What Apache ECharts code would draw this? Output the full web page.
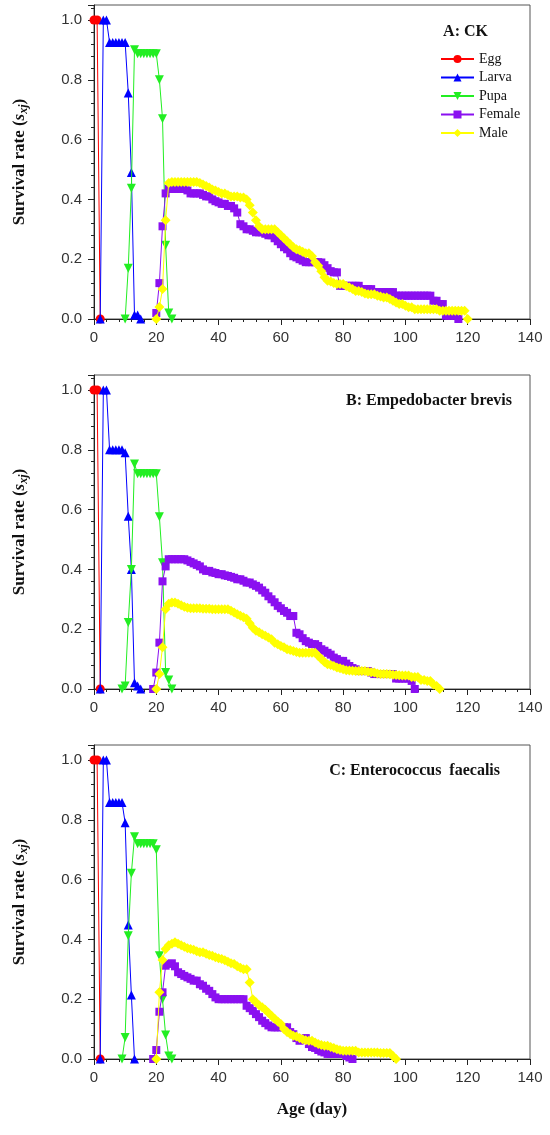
<!DOCTYPE html>
<html>
<head>
<meta charset="utf-8">
<script src="https://cdn.jsdelivr.net/npm/echarts@6/dist/echarts.min.js"></script>
<style>
  html, body { margin: 0; padding: 0; background: #fff; }
  #main { width: 550px; height: 1135px; }
</style>
</head>
<body>
<div id="main"></div>
<script>
// stage names and panel titles
const stages = ['Egg', 'Larva', 'Pupa', 'Female', 'Male'];
const panelTitles = ['A: CK', 'B: Empedobacter brevis', 'C: Enterococcus  faecalis'];

// first age (day) of each stage curve, per panel
const startA = [0, 2, 10, 20, 20];
const startB = [0, 2, 9, 19, 20];
const startC = [0, 2, 9, 19, 20];

// A: CK
const eggA = [1, 1, 0];
const larvaA = [0, 1, 1, 0.925, 0.925, 0.925, 0.925, 0.925, 0.925, 0.756, 0.49, 0.013, 0.013, 0];
const pupaA = [0, 0.17, 0.437, 0.9, 0.887, 0.887, 0.887, 0.887, 0.887, 0.887, 0.887, 0.8, 0.67, 0.247, 0.02, 0];
const femaleA = [
  0.02, 0.12, 0.31, 0.42, 0.435, 0.435, 0.435, 0.435, 0.435, 0.435,
  0.43, 0.42, 0.42, 0.42, 0.42, 0.415, 0.41, 0.41, 0.40, 0.394,
  0.39, 0.385, 0.385, 0.378, 0.378, 0.37, 0.356, 0.317, 0.31, 0.30,
  0.30, 0.295, 0.29, 0.29, 0.29, 0.285, 0.28, 0.28, 0.27, 0.26,
  0.25, 0.24, 0.233, 0.22, 0.21, 0.206, 0.2, 0.195, 0.19, 0.19,
  0.19, 0.19, 0.19, 0.189, 0.18, 0.17, 0.16, 0.156, 0.156, 0.111,
  0.111, 0.111, 0.111, 0.111, 0.111, 0.111, 0.1, 0.1, 0.1, 0.1,
  0.09, 0.09, 0.09, 0.09, 0.09, 0.09, 0.09, 0.078, 0.078, 0.078,
  0.078, 0.078, 0.078, 0.078, 0.078, 0.078, 0.078, 0.078, 0.078, 0.061,
  0.061, 0.05, 0.05, 0.011, 0.011, 0.011, 0.011, 0
];
const maleA = [
  0, 0.04, 0.1, 0.33, 0.455, 0.458, 0.458, 0.458, 0.458, 0.458,
  0.458, 0.458, 0.458, 0.458, 0.455, 0.45, 0.445, 0.44, 0.433, 0.43,
  0.425, 0.42, 0.42, 0.415, 0.41, 0.41, 0.41, 0.406, 0.406, 0.40,
  0.38, 0.356, 0.33, 0.31, 0.30, 0.30, 0.30, 0.30, 0.30, 0.29,
  0.28, 0.27, 0.26, 0.25, 0.24, 0.233, 0.23, 0.225, 0.22, 0.22,
  0.21, 0.19, 0.178, 0.16, 0.14, 0.128, 0.125, 0.12, 0.117, 0.117,
  0.117, 0.11, 0.105, 0.1, 0.094, 0.094, 0.09, 0.085, 0.083, 0.083,
  0.083, 0.078, 0.075, 0.072, 0.072, 0.067, 0.061, 0.055, 0.05, 0.05,
  0.044, 0.039, 0.039, 0.033, 0.033, 0.033, 0.033, 0.033, 0.033, 0.033,
  0.033, 0.028, 0.028, 0.028, 0.028, 0.028, 0.028, 0.028, 0.028, 0.028,
  0
];

// B: Empedobacter brevis
const eggB = [1, 1, 0];
const larvaB = [0, 1, 1, 0.8, 0.8, 0.8, 0.8, 0.8, 0.79, 0.578, 0.40, 0.021, 0.01, 0];
const pupaB = [0, 0.01, 0.222, 0.40, 0.752, 0.72, 0.72, 0.72, 0.72, 0.72, 0.72, 0.72, 0.576, 0.422, 0.055, 0.03, 0];
const femaleB = [
  0,
  0.055, 0.155, 0.36, 0.41, 0.434, 0.434, 0.434, 0.434, 0.434, 0.434,
  0.43, 0.425, 0.42, 0.415, 0.41, 0.40, 0.395, 0.395, 0.39, 0.388,
  0.384, 0.384, 0.38, 0.378, 0.375, 0.372, 0.367, 0.367, 0.362, 0.356,
  0.356, 0.35, 0.345, 0.339, 0.33, 0.322, 0.31, 0.30, 0.29, 0.278,
  0.27, 0.261, 0.255, 0.244, 0.244, 0.188, 0.183, 0.17, 0.16, 0.155,
  0.15, 0.15, 0.144, 0.133, 0.128, 0.121, 0.115, 0.105, 0.1, 0.094,
  0.094, 0.085, 0.077, 0.07, 0.066, 0.06, 0.06, 0.06, 0.06, 0.055,
  0.05, 0.05, 0.05, 0.05, 0.05, 0.05, 0.05, 0.035, 0.035, 0.035,
  0.035, 0.035, 0.027, 0
];
const maleB = [
  0, 0.05, 0.14, 0.267, 0.285, 0.289, 0.289, 0.285, 0.28, 0.275,
  0.272, 0.27, 0.27, 0.27, 0.27, 0.268, 0.268, 0.268, 0.267, 0.267,
  0.267, 0.267, 0.267, 0.267, 0.262, 0.256, 0.25, 0.245, 0.24, 0.235,
  0.22, 0.205, 0.195, 0.19, 0.183, 0.178, 0.172, 0.166, 0.155, 0.15,
  0.144, 0.14, 0.133, 0.13, 0.127, 0.124, 0.121, 0.121, 0.121, 0.121,
  0.121, 0.121, 0.11, 0.1, 0.09, 0.083, 0.08, 0.077, 0.072, 0.069,
  0.066, 0.063, 0.062, 0.061, 0.06, 0.06, 0.06, 0.06, 0.058, 0.056,
  0.055, 0.052, 0.05, 0.05, 0.05, 0.049, 0.048, 0.047, 0.046, 0.045,
  0.045, 0.045, 0.04, 0.04, 0.04, 0.03, 0.03, 0.027, 0.027, 0.015,
  0.01, 0
];

// C: Enterococcus faecalis
const eggC = [1, 1, 0];
const larvaC = [0, 1, 1, 0.858, 0.858, 0.858, 0.858, 0.858, 0.79, 0.448, 0.214, 0];
const pupaC = [0, 0.072, 0.412, 0.621, 0.743, 0.72, 0.72, 0.72, 0.72, 0.72, 0.72, 0.70, 0.345, 0.2, 0.08, 0.01, 0];
const femaleC = [
  0,
  0.03, 0.158, 0.223, 0.312, 0.318, 0.32, 0.31, 0.29, 0.284, 0.278,
  0.273, 0.268, 0.262, 0.262, 0.25, 0.245, 0.235, 0.228, 0.217, 0.206,
  0.2, 0.2, 0.2, 0.2, 0.2, 0.2, 0.2, 0.2, 0.2, 0.178,
  0.17, 0.161, 0.15, 0.14, 0.128, 0.12, 0.112, 0.106, 0.106, 0.106,
  0.106, 0.106, 0.106, 0.09, 0.083, 0.07, 0.061, 0.065, 0.07, 0.05,
  0.04, 0.037, 0.03, 0.025, 0.022, 0.017, 0.017, 0.017, 0.017, 0.017,
  0.017, 0.01, 0.005, 0
];
const maleC = [
  0, 0.223, 0.331, 0.368, 0.38, 0.385, 0.39, 0.385, 0.38, 0.375,
  0.37, 0.368, 0.365, 0.36, 0.357, 0.357, 0.352, 0.348, 0.345, 0.34,
  0.337, 0.334, 0.33, 0.325, 0.32, 0.318, 0.31, 0.305, 0.30, 0.30,
  0.256, 0.2, 0.19, 0.18, 0.173, 0.165, 0.155, 0.145, 0.135, 0.125,
  0.117, 0.1, 0.09, 0.084, 0.078, 0.075, 0.07, 0.066, 0.063, 0.061,
  0.061, 0.055, 0.05, 0.047, 0.044, 0.044, 0.04, 0.037, 0.033, 0.03,
  0.028, 0.028, 0.028, 0.028, 0.028, 0.022, 0.022, 0.022, 0.022, 0.022,
  0.022, 0.022, 0.02, 0.02, 0.02, 0.02, 0.01, 0
];

const panels = [
  { start: startA, values: [eggA, larvaA, pupaA, femaleA, maleA] },
  { start: startB, values: [eggB, larvaB, pupaB, femaleB, maleB] },
  { start: startC, values: [eggC, larvaC, pupaC, femaleC, maleC] }
];

const colors = ['#ff0000', '#0000ff', '#22ee22', '#8a10f0', '#ffff00'];
const symbols = ['circle', 'triangle', 'path://M0,0 L10,0 L5,9 Z', 'rect', 'diamond'];
const symbolSizes = [9, 9, 9, 8, 10];
const gridTops = [5, 375, 745];

const serif = 'Liberation Serif';
const sans = 'Liberation Sans';

let myChart = echarts.init(document.getElementById('main'));

const grid = gridTops.map(top => ({
  left: 94, right: 20, top: top, height: 314,
  show: true, borderColor: '#555', borderWidth: 1, backgroundColor: 'transparent'
}));

const xAxis = gridTops.map((t, i) => ({
  type: 'value', gridIndex: i, min: 0, max: 140, interval: 20,
  axisLine: { onZero: false, lineStyle: { color: '#222', width: 1 } },
  axisTick: { length: 6, lineStyle: { color: '#222' } },
  minorTick: { show: true, splitNumber: 5, length: 3, lineStyle: { color: '#222' } },
  splitLine: { show: false },
  axisLabel: { fontFamily: sans, fontSize: 15, color: '#333', margin: 11 },
  name: i === 2 ? 'Age (day)' : '',
  nameLocation: 'middle', nameGap: 42,
  nameTextStyle: { fontFamily: serif, fontWeight: 'bold', fontSize: 17, color: '#111' }
}));

const yAxis = gridTops.map((t, i) => ({
  type: 'value', gridIndex: i, min: 0, max: 1.05, interval: 0.2,
  axisLine: { lineStyle: { color: '#222', width: 1 } },
  axisTick: { length: 6, lineStyle: { color: '#222' } },
  minorTick: { show: true, splitNumber: 5, length: 3, lineStyle: { color: '#222' } },
  splitLine: { show: false },
  axisLabel: {
    fontFamily: sans, fontSize: 15, color: '#333', margin: 12,
    formatter: v => (Math.abs(v * 5 - Math.round(v * 5)) < 1e-6 ? v.toFixed(1) : '')
  },
  name: '{b|Survival rate (}{i|s}{sub|xj}{b|)}',
  nameLocation: 'middle', nameGap: 64,
  nameTextStyle: {
    rich: {
      b: { fontFamily: serif, fontWeight: 'bold', fontSize: 17, color: '#111' },
      i: { fontFamily: serif, fontWeight: 'bold', fontStyle: 'italic', fontSize: 17, color: '#111' },
      sub: { fontFamily: serif, fontWeight: 'bold', fontStyle: 'italic', fontSize: 12, color: '#111', padding: [8, 0, 0, 0] }
    }
  }
}));

const series = [];
panels.forEach((p, pi) => {
  p.values.forEach((vals, si) => {
    series.push({
      name: stages[si],
      type: 'line',
      xAxisIndex: pi,
      yAxisIndex: pi,
      data: vals.map((v, d) => [p.start[si] + d, v]),
      symbol: symbols[si],
      symbolSize: symbolSizes[si],
      showAllSymbol: true,
      color: colors[si],
      lineStyle: { color: colors[si], width: 1 },
      itemStyle: { color: colors[si] },
      z: 2 + si
    });
  });
});

const title = [
  { text: panelTitles[0], right: 57, top: 19 },
  { text: panelTitles[1], right: 33, top: 388 },
  { text: panelTitles[2], right: 45, top: 758 }
].map(t => Object.assign(t, {
  textStyle: { fontFamily: serif, fontWeight: 'bold', fontSize: 16, color: '#111' }
}));

let option = {
  animation: false,
  backgroundColor: '#fff',
  title,
  legend: {
    data: stages,
    orient: 'vertical',
    left: 435,
    top: 47,
    itemWidth: 33,
    itemHeight: 10,
    itemGap: 4.5,
    textStyle: { fontFamily: serif, fontSize: 14, color: '#111', lineHeight: 14 },
    selectedMode: false
  },
  grid,
  xAxis,
  yAxis,
  series
};
myChart.setOption(option);
</script>
</body>
</html>
